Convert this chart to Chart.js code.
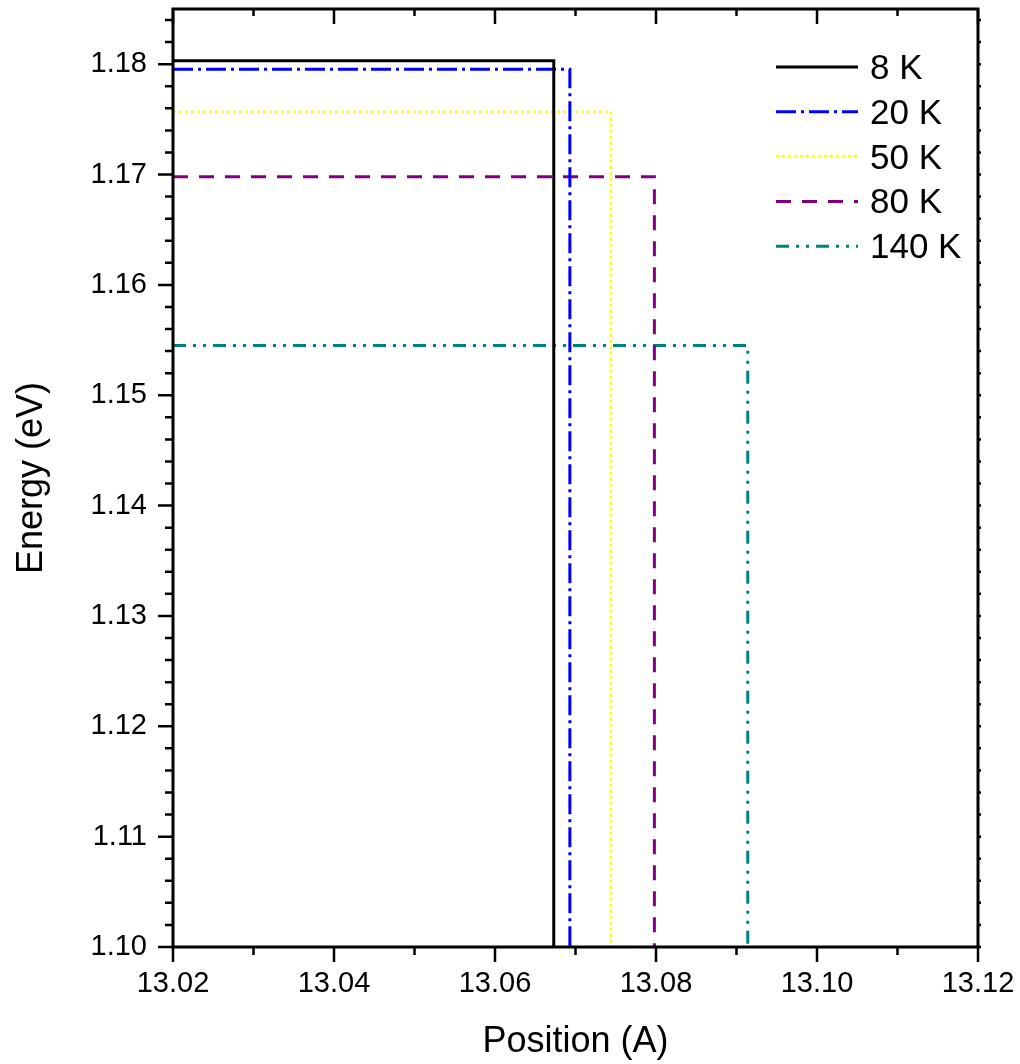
<!DOCTYPE html>
<html>
<head>
<meta charset="utf-8">
<script src="https://cdn.jsdelivr.net/npm/chart.js@4/dist/chart.umd.min.js"></script>
<style>
  html, body { margin: 0; padding: 0; background: #fff; }
  canvas { display: block; }
</style>
</head>
<body>
<canvas id="chart" width="1020" height="1064"></canvas>
<script>
// series: temperature, plateau energy (eV), position where the level drops (A)
const temps = ['8 K', '20 K', '50 K', '80 K', '140 K'];
const energies = [1.1803, 1.17955, 1.1757, 1.1698, 1.1545];
const edges = [13.0673, 13.0693, 13.0744, 13.0798, 13.0914];
const xStart = 13.02;
const yFloor = 1.10;

const colors = ['#000000', '#0000ff', '#ffff00', '#800080', '#008080'];
const dashes = [[], [20, 5, 3, 5], [3, 3], [15, 11], [13, 7, 3, 7, 3, 7]];
const widths = [3, 3, 2.5, 3, 3];

// axes
const xMajorTicks = [13.02, 13.04, 13.06, 13.08, 13.10, 13.12];
const yMajorTicks = [1.10, 1.11, 1.12, 1.13, 1.14, 1.15, 1.16, 1.17, 1.18];
const xMin = 13.02, xMax = 13.12, xMinorStep = 0.01;
const yMin = 1.10, yMax = 1.185, yMinorStep = 0.002;

const FONT = '"Liberation Sans", Arial, sans-serif';

const datasets = temps.map((t, i) => ({
  label: t,
  data: [
    {x: xStart, y: energies[i]},
    {x: edges[i], y: energies[i]},
    {x: edges[i], y: yFloor}
  ],
  showLine: true,
  fill: false,
  borderColor: colors[i],
  backgroundColor: colors[i],
  borderWidth: widths[i],
  borderDash: dashes[i],
  borderCapStyle: 'butt',
  borderJoinStyle: 'miter',
  pointRadius: 0,
  tension: 0
}));

// frame with inward/outward ticks like the original plot
const framePlugin = {
  id: 'frame',
  afterDatasetsDraw(chart) {
    const {ctx, chartArea: a, scales} = chart;
    const xs = scales.x, ys = scales.y;
    ctx.save();
    ctx.strokeStyle = '#000';
    ctx.lineWidth = 3;
    ctx.strokeRect(a.left, a.top, a.right - a.left, a.bottom - a.top);
    ctx.lineWidth = 2.5;
    ctx.beginPath();
    const nx = Math.round((xMax - xMin) / xMinorStep);
    for (let k = 0; k <= nx; k++) {
      const v = xMin + k * xMinorStep;
      const px = xs.getPixelForValue(v);
      const major = k % 2 === 0;
      ctx.moveTo(px, a.bottom); ctx.lineTo(px, a.bottom + (major ? 15 : 8));
      ctx.moveTo(px, a.top); ctx.lineTo(px, a.top + (major ? 15 : 7));
    }
    const ny = Math.floor((yMax - yMin) / yMinorStep + 1e-6);
    for (let k = 0; k <= ny; k++) {
      const v = yMin + k * yMinorStep;
      const py = ys.getPixelForValue(v);
      const major = k % 5 === 0;
      ctx.moveTo(a.left, py); ctx.lineTo(a.left - (major ? 15 : 8), py);
      ctx.moveTo(a.right, py); ctx.lineTo(a.right + 3, py);
    }
    ctx.stroke();
    ctx.restore();
  },
  afterDraw(chart) {
    // legend
    const {ctx} = chart;
    ctx.save();
    ctx.font = '35px ' + FONT;
    ctx.fillStyle = '#000';
    ctx.textBaseline = 'alphabetic';
    chart.data.datasets.forEach((ds, i) => {
      const base = 79 + i * 44.8;
      const ly = base - 12;
      ctx.beginPath();
      ctx.strokeStyle = ds.borderColor;
      ctx.lineWidth = ds.borderWidth;
      ctx.setLineDash(ds.borderDash);
      ctx.lineCap = 'butt';
      ctx.moveTo(776, ly);
      ctx.lineTo(858, ly);
      ctx.stroke();
      ctx.setLineDash([]);
      ctx.fillText(ds.label, 870, base);
    });
    ctx.restore();
  }
};

new Chart(document.getElementById('chart'), {
  type: 'scatter',
  data: {datasets},
  options: {
    responsive: false,
    animation: false,
    devicePixelRatio: 1,
    layout: {padding: {top: 9, right: 42, left: 0, bottom: 0}},
    plugins: {legend: {display: false}, tooltip: {enabled: false}},
    scales: {
      x: {
        type: 'linear',
        min: xMin,
        max: xMax,
        grid: {display: false, drawTicks: false},
        border: {display: false},
        afterBuildTicks: s => { s.ticks = xMajorTicks.map(v => ({value: v})); },
        afterFit: s => { s.height = 117; s.paddingLeft = 0; s.paddingRight = 0; },
        ticks: {
          autoSkip: false,
          maxRotation: 0,
          padding: 20,
          color: '#000',
          font: {family: FONT, size: 29},
          callback: v => Number(v).toFixed(2)
        },
        title: {
          display: true,
          text: 'Position (A)',
          color: '#000',
          font: {family: FONT, size: 36},
          padding: {top: 8, bottom: 0}
        }
      },
      y: {
        type: 'linear',
        min: yMin,
        max: yMax,
        grid: {display: false, drawTicks: false},
        border: {display: false},
        afterBuildTicks: s => { s.ticks = yMajorTicks.map(v => ({value: v})); },
        afterFit: s => { s.width = 173; s.paddingTop = 0; s.paddingBottom = 0; },
        ticks: {
          autoSkip: false,
          padding: 26,
          color: '#000',
          font: {family: FONT, size: 29},
          callback: v => Number(v).toFixed(2)
        },
        title: {
          display: true,
          text: 'Energy (eV)',
          color: '#000',
          font: {family: FONT, size: 36},
          padding: {top: 10, bottom: 0}
        }
      }
    }
  },
  plugins: [framePlugin]
});
</script>
</body>
</html>
